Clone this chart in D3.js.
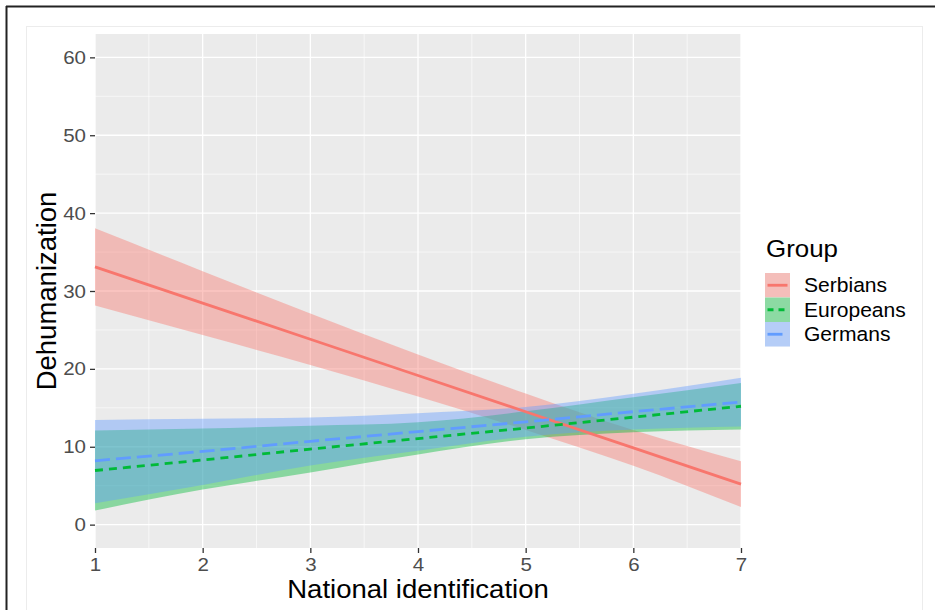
<!DOCTYPE html>
<html>
<head>
<meta charset="utf-8">
<script src="https://cdn.jsdelivr.net/npm/d3@7"></script>
<style>
  body { margin: 0; background: #fff; }
  text { font-family: "Liberation Sans", Arial, sans-serif; }
</style>
</head>
<body>
<div class="chart"></div>
<script>
// values (predicted dehumanization, 95% band)
var xValues = [1, 2, 3, 4, 5, 6, 7];
var groupNames = ["Serbians", "Europeans", "Germans"];

var serbiansFit = [33.1, 28.45, 23.8, 19.15, 14.5, 9.85, 5.2];
var serbiansUpper = [38.05, 32.55, 27.1, 21.85, 16.85, 12.15, 8.15];
var serbiansLower = [28.15, 24.35, 20.5, 16.45, 12.15, 7.55, 2.25];

var europeansFit = [6.95, 8.3, 9.7, 11.05, 12.4, 13.8, 15.2];
var europeansUpper = [12.1, 12.35, 12.7, 13.15, 14.55, 16.35, 18.2];
var europeansLower = [1.8, 4.5, 6.7, 9.0, 10.95, 11.85, 12.2];

var germansFit = [8.2, 9.4, 10.7, 11.95, 13.2, 14.5, 15.75];
var germansUpper = [13.45, 13.6, 13.75, 14.3, 15.1, 16.8, 18.85];
var germansLower = [2.75, 5.1, 7.6, 9.5, 11.3, 12.2, 12.6];

var yTicks = [0, 10, 20, 30, 40, 50, 60];
var xTicks = [1, 2, 3, 4, 5, 6, 7];

var colors = ["#F8766D", "#00BA38", "#619CFF"];
var dashes = [null, "8,6", "15,6"];

var series = groupNames.map(function (g, i) {
  var fit = [serbiansFit, europeansFit, germansFit][i];
  var up = [serbiansUpper, europeansUpper, germansUpper][i];
  var lo = [serbiansLower, europeansLower, germansLower][i];
  return {
    name: g,
    points: xValues.map(function (x, j) {
      return { x: x, fit: fit[j], upper: up[j], lower: lo[j] };
    })
  };
});

var W = 935, H = 610;
var panel = { left: 95, right: 741, top: 34, bottom: 548 };
var sx = 1.08; // text in the reference is a bit wide

var svg = d3.select(".chart").append("svg")
  .attr("width", W).attr("height", H);

// frame
svg.append("rect").attr("x", 26.5).attr("y", 26.5)
  .attr("width", 896).attr("height", 620)
  .attr("fill", "#fff").attr("stroke", "#ececec");
svg.append("line").attr("x1", 6).attr("x2", W).attr("y1", 6.5).attr("y2", 6.5)
  .attr("stroke", "#222").attr("stroke-width", 2);
svg.append("line").attr("x1", 6.5).attr("x2", 6.5).attr("y1", 6).attr("y2", H)
  .attr("stroke", "#222").attr("stroke-width", 2);

var x = d3.scaleLinear().domain([1, 7]).range([panel.left, panel.right]);
var y = d3.scaleLinear().domain([-3, 63]).range([panel.bottom, panel.top]);

svg.append("rect")
  .attr("x", panel.left).attr("y", panel.top)
  .attr("width", panel.right - panel.left)
  .attr("height", panel.bottom - panel.top)
  .attr("fill", "#EBEBEB");

var grid = svg.append("g");
d3.range(1.5, 7, 1).forEach(function (v) {
  grid.append("line").attr("x1", x(v)).attr("x2", x(v))
    .attr("y1", panel.top).attr("y2", panel.bottom)
    .attr("stroke", "#fff").attr("stroke-width", 0.6);
});
d3.range(5, 60, 10).forEach(function (v) {
  grid.append("line").attr("y1", y(v)).attr("y2", y(v))
    .attr("x1", panel.left).attr("x2", panel.right)
    .attr("stroke", "#fff").attr("stroke-width", 0.6);
});
xTicks.forEach(function (v) {
  grid.append("line").attr("x1", x(v)).attr("x2", x(v))
    .attr("y1", panel.top).attr("y2", panel.bottom)
    .attr("stroke", "#fff").attr("stroke-width", 1.3);
});
yTicks.forEach(function (v) {
  grid.append("line").attr("y1", y(v)).attr("y2", y(v))
    .attr("x1", panel.left).attr("x2", panel.right)
    .attr("stroke", "#fff").attr("stroke-width", 1.3);
});

var area = d3.area()
  .x(function (d) { return x(d.x); })
  .y0(function (d) { return y(d.lower); })
  .y1(function (d) { return y(d.upper); })
  .curve(d3.curveMonotoneX);

var line = d3.line()
  .x(function (d) { return x(d.x); })
  .y(function (d) { return y(d.fit); });

svg.selectAll(".band")
  .data(series)
  .enter()
  .append("path")
  .attr("class", "band")
  .attr("d", function (d) { return area(d.points); })
  .attr("fill", function (d, i) { return colors[i]; })
  .attr("fill-opacity", 0.42);

svg.selectAll(".fit")
  .data(series)
  .enter()
  .append("path")
  .attr("class", "fit")
  .attr("d", function (d) { return line(d.points); })
  .attr("fill", "none")
  .attr("stroke", function (d, i) { return colors[i]; })
  .attr("stroke-width", 2.8)
  .attr("stroke-dasharray", function (d, i) { return dashes[i]; });

// axes
var yAxis = svg.append("g")
  .attr("transform", "translate(" + panel.left + ",0)")
  .call(d3.axisLeft(y).tickValues(yTicks).tickSize(5).tickPadding(4)
    .tickFormat(d3.format("d")));
var xAxis = svg.append("g")
  .attr("transform", "translate(0," + panel.bottom + ")")
  .call(d3.axisBottom(x).tickValues(xTicks).tickSize(5).tickPadding(5)
    .tickFormat(d3.format("d")));

[xAxis, yAxis].forEach(function (a) {
  a.select(".domain").remove();
  a.selectAll(".tick line").attr("stroke", "#333").attr("stroke-width", 1.3);
  a.selectAll(".tick text")
    .attr("fill", "#4D4D4D")
    .style("font-size", "19px")
    .style("font-family", "'Liberation Sans', Arial, sans-serif");
});
yAxis.selectAll(".tick text").attr("transform", "scale(" + sx + ",1)")
  .attr("x", -9 / sx);
xAxis.selectAll(".tick text").attr("transform", "scale(" + sx + ",1)");

svg.append("text")
  .attr("transform", "translate(" + (panel.left + panel.right) / 2 + ",598) scale(" + sx + ",1)")
  .attr("text-anchor", "middle")
  .style("font-size", "25.5px")
  .attr("fill", "#000")
  .text("National identification");

svg.append("text")
  .attr("transform", "translate(56," + (panel.top + panel.bottom) / 2 + ") rotate(-90)")
  .attr("text-anchor", "middle")
  .style("font-size", "27.5px")
  .attr("fill", "#000")
  .text("Dehumanization");

// legend
var legend = svg.append("g").attr("transform", "translate(765,0)");
legend.append("text")
  .attr("transform", "translate(1,257) scale(" + sx + ",1)")
  .style("font-size", "24px")
  .attr("fill", "#000")
  .text("Group");

var keyH = 24.5, keyTop = 273;
var keys = legend.selectAll(".key")
  .data(series)
  .enter()
  .append("g")
  .attr("class", "key")
  .attr("transform", function (d, i) { return "translate(0," + (keyTop + i * keyH) + ")"; });
keys.append("rect").attr("width", 25).attr("height", keyH).attr("fill", "#F2F2F2");
keys.append("rect").attr("width", 25).attr("height", keyH)
  .attr("fill", function (d, i) { return colors[i]; })
  .attr("fill-opacity", 0.42);
keys.append("line")
  .attr("x1", 2.5).attr("x2", 22.5)
  .attr("y1", keyH / 2).attr("y2", keyH / 2)
  .attr("stroke", function (d, i) { return colors[i]; })
  .attr("stroke-width", 2.8)
  .attr("stroke-dasharray", function (d, i) { return i === 1 ? "6,5" : dashes[i]; });
keys.append("text")
  .attr("transform", "translate(39," + (keyH / 2 + 7) + ") scale(" + sx + ",1)")
  .style("font-size", "19.5px")
  .attr("fill", "#000")
  .text(function (d) { return d.name; });
</script>
</body>
</html>
